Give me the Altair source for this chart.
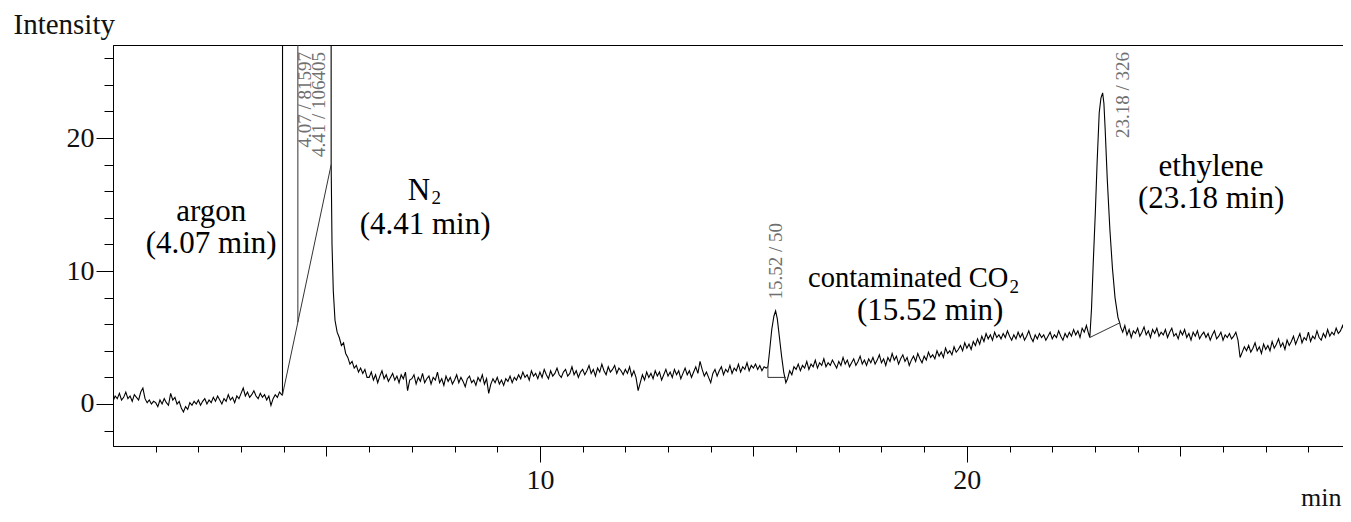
import altair as alt
import pandas as pd

STEP = 0.05

seg_a_start = 0.00
seg_a_vals = [
    0.2, 0.6, 0.4, 0.8, 0.3, 0.5, 0.9, 0.4, 0.6, 0.2, 0.7, 0.5, 0.3, 0.9, 1.2, 0.4, 0.1, 0.3, 0.0, 0.2,
    0.1, -0.2, 0.3, 0.0, 0.4, 0.1, -0.1, 0.8, 0.3, 0.5, 0.0, 0.2, -0.3, -0.6, -0.2, -0.4, 0.1, -0.1, 0.2, 0.0,
    0.3, -0.1, 0.2, 0.4, 0.0, 0.3, 0.1, 0.5, 0.2, 0.6, 0.3, 0.0, 0.4, 0.2, 0.7, 0.3, 0.5, 0.1, 0.6, 0.4,
    0.8, 1.2, 0.6, 0.9, 0.5, 0.7, 1.0, 0.6, 0.4, 0.8, 0.5, 0.7, 0.3, 0.6, -0.1, 0.4, 0.7, 0.5, 0.9, 0.7,
]

# argon / N2 region (argon and N2 apex are off scale)
peak1_t = [3.97, 3.98, 5.09, 5.11, 5.13, 5.16, 5.20, 5.25, 5.30, 5.35, 5.40, 5.45, 5.50,
           5.55, 5.60, 5.65, 5.70, 5.75, 5.80, 5.85, 5.90, 5.95]
peak1_v = [0.68, 300, 300, 18.0, 12.0, 8.5, 6.3, 5.4, 5.0, 4.4, 4.6, 3.8, 3.5,
           3.0, 3.2, 2.7, 2.9, 2.4, 2.7, 2.3, 2.6, 2.0]

seg_c_start = 6.00
seg_c_vals = [
    2.0, 2.4, 1.8, 2.2, 1.6, 2.1, 2.5, 1.9, 2.2, 1.7, 2.0, 2.3, 1.8, 2.1, 1.6, 2.2, 1.9, 2.4, 1.0, 1.8,
    1.9, 2.2, 1.5, 2.0, 1.7, 2.3, 1.6, 1.9, 2.1, 1.5, 2.0, 1.8, 2.4, 1.6, 1.9, 1.4, 2.1, 1.7, 2.0, 1.5,
    1.8, 2.2, 1.6, 2.0, 1.7, 1.3, 1.9, 2.1, 1.6, 1.8, 1.4, 2.0, 1.7, 2.2, 1.5, 1.9, 0.8, 1.5, 1.9, 1.6,
    2.0, 1.5, 1.8, 1.4, 1.9, 1.7, 2.1, 1.6, 2.0, 1.8, 2.2, 1.9, 2.4, 2.0, 2.2, 1.8, 2.5, 2.1, 2.3, 1.9,
    2.4, 2.0, 2.6, 2.2, 1.9, 2.5, 2.1, 2.3, 2.7, 2.2, 2.0, 2.4, 2.6, 2.1, 2.3, 2.8, 2.2, 2.5, 2.0, 2.4,
    2.6, 2.2, 2.5, 2.9, 2.3, 2.6, 2.1, 2.7, 2.4, 3.0, 2.5, 2.2, 2.8, 2.4, 2.6, 2.9, 2.3, 2.7, 2.5, 2.2,
    2.6, 2.3, 2.8, 2.1, 2.5, 2.0, 1.0, 1.6, 2.2, 1.8, 2.4, 2.0, 2.3, 1.9, 2.5, 2.1, 2.4, 1.8, 2.2, 2.6,
    2.1, 2.4, 2.0, 2.6, 2.2, 2.5, 1.9, 2.3, 2.7, 2.2, 2.5, 2.0, 2.4, 2.8, 2.3, 3.2, 2.6, 2.1, 2.4, 2.0,
    1.6, 2.3, 2.6, 2.1, 2.5, 2.8, 2.2, 2.6, 2.4, 2.9, 2.3, 2.7, 2.5, 3.0, 2.4, 2.8, 2.6, 3.1, 2.5, 2.9,
    2.7, 3.0, 2.6, 2.9, 2.5, 2.8, 2.7,
]

# contaminated CO2 peak
peak2_t = [15.34, 15.38, 15.43, 15.48, 15.52, 15.56, 15.61, 15.66, 15.71, 15.76]
peak2_v = [2.8, 4.0, 5.6, 6.6, 7.0, 6.4, 5.0, 3.6, 2.4, 1.6]

seg_e_start = 15.80
seg_e_vals = [
    1.9, 2.5, 2.2, 2.8, 2.6, 3.0, 2.5, 2.9, 2.7, 3.2, 2.6, 3.0, 2.8, 3.3, 2.7, 3.1, 2.9, 3.4, 2.8, 3.1,
    2.9, 3.3, 3.0, 2.7, 3.2, 2.9, 3.5, 3.0, 3.3, 2.8, 3.1, 3.4, 2.9, 3.2, 3.6, 3.0, 3.3, 2.9, 3.4, 3.1,
    3.5, 3.0, 3.3, 3.7, 3.1, 3.4, 2.9, 3.5, 3.2, 3.8, 3.3, 3.6, 3.0, 3.4, 3.7, 3.2, 3.5, 2.9, 3.3, 3.6,
    3.2, 3.8, 3.4, 3.1, 3.6, 3.3, 3.9, 3.5, 3.7, 3.4, 4.0, 3.6, 3.9, 3.5, 4.2, 3.8, 4.0, 3.7, 4.3, 3.9,
    4.1, 4.4, 4.0, 4.6, 4.2, 4.5, 4.1, 4.7, 4.4, 4.9, 4.5, 5.1, 4.7, 5.3, 4.9, 5.2, 4.8, 5.4, 5.0, 5.2,
    4.9, 5.3, 5.0, 5.5, 5.1, 4.8, 5.2, 4.9, 5.4, 5.0, 5.3, 4.8, 5.1, 5.5, 5.0, 4.7, 5.2, 4.9, 5.3, 5.0,
    5.2, 4.8, 5.1, 5.4, 4.9, 5.2, 5.0, 5.5, 5.1, 4.8, 5.3, 5.0, 5.4, 5.1, 5.6, 5.2, 5.5, 5.0, 5.7, 5.4,
    5.9, 5.3,
]

# ethylene peak
peak3_t = [22.88, 22.92, 22.96, 23.01, 23.05, 23.10, 23.14, 23.18, 23.21, 23.24, 23.29,
           23.35, 23.41, 23.47, 23.54, 23.58]
peak3_v = [5.0, 7.2, 10.6, 14.5, 18.1, 21.9, 23.0, 23.4, 22.6, 20.6, 16.8,
           13.1, 10.2, 8.0, 6.5, 6.1]

seg_g_start = 23.60
seg_g_vals = [
    5.8, 5.4, 5.9, 5.2, 5.6, 5.0, 5.5, 5.3, 5.7, 5.1, 5.4, 5.8, 5.2, 5.5, 5.0, 5.6, 5.3, 5.7, 5.1, 5.4,
    5.2, 5.6, 5.0, 5.4, 5.7, 5.1, 5.3, 4.9, 5.5, 5.2, 5.6, 5.0, 5.3, 4.8, 5.4, 5.1, 5.5, 4.9, 5.2, 5.4,
    5.0, 5.3, 4.8, 5.2, 5.5, 4.9, 5.1, 5.4, 4.8, 5.2, 5.0, 5.3, 4.9, 5.1, 5.4, 4.8, 3.5, 3.9, 4.3, 4.0,
    4.4, 3.9, 4.2, 4.6, 4.0, 4.3, 3.8, 4.5, 4.1, 4.4, 4.0, 4.7, 4.2, 4.5, 4.9, 4.3, 4.6, 4.1, 4.8, 4.4,
    4.7, 5.1, 4.5, 4.9, 5.3, 4.6, 5.0, 4.8, 5.4, 4.7, 5.1, 4.9, 5.5, 5.0, 4.8, 5.3, 5.0, 5.6, 5.1, 5.4,
    5.2, 5.7, 5.3, 5.5, 5.9, 5.4, 5.8, 5.6, 6.0,
]

# integration baselines / drop lines drawn by the data system
base_seg = ["b1", "b1", "d1", "d1", "b2", "b2", "b2", "b3", "b3"]
base_t = [3.97, 5.11, 4.33, 4.33, 15.34, 15.34, 15.76, 22.88, 23.58]
base_v = [0.68, 18.0, 6.15, 300, 2.8, 2.0, 2.0, 5.0, 6.1]

# peak labels (retention time / area)
plabel_text = ["4.07 / 81597", "4.41 / 106405", "15.52 / 50", "23.18 / 326"]
plabel_t = [4.64, 4.97, 15.67, 23.80]
plabel_v = [26.47, 26.47, 13.61, 26.47]

# compound annotations
ann_c_text = ["argon", "(4.07 min)", "(4.41 min)", "(15.52 min)", "ethylene", "(23.18 min)"]
ann_c_t = [2.30, 2.30, 7.31, 19.14, 25.72, 25.72]
ann_c_v = [13.76, 11.36, 12.76, 6.32, 17.15, 14.74]
ann_n_text = ["N"]
ann_n_t = [7.43]
ann_n_v = [15.35]
ann_co_text = ["contaminated CO"]
ann_co_t = [20.97]
ann_co_v = [8.80]
ann_s_text = ["2", "2"]
ann_s_t = [7.46, 21.00]
ann_s_v = [15.05, 8.35]

# ---- build tables ----
def grid(start, n):
    return [round(start + k * STEP, 2) for k in range(n)]

t_all, v_all = [], []
for ts, vs in [
    (grid(seg_a_start, len(seg_a_vals)), seg_a_vals),
    (peak1_t, peak1_v),
    (grid(seg_c_start, len(seg_c_vals)), seg_c_vals),
    (peak2_t, peak2_v),
    (grid(seg_e_start, len(seg_e_vals)), seg_e_vals),
    (peak3_t, peak3_v),
    (grid(seg_g_start, len(seg_g_vals)), seg_g_vals),
]:
    t_all += list(ts)
    v_all += list(vs)

trace = pd.DataFrame({"t": t_all, "v": v_all, "i": range(len(t_all))})
base = pd.DataFrame({"seg": base_seg, "t": base_t, "v": base_v, "k": range(len(base_t))})
plab = pd.DataFrame({"t": plabel_t, "v": plabel_v, "label": plabel_text})
ann_c = pd.DataFrame({"t": ann_c_t, "v": ann_c_v, "label": ann_c_text})
ann_n = pd.DataFrame({"t": ann_n_t, "v": ann_n_v, "label": ann_n_text})
ann_co = pd.DataFrame({"t": ann_co_t, "v": ann_co_v, "label": ann_co_text})
ann_s = pd.DataFrame({"t": ann_s_t, "v": ann_s_v, "label": ann_s_text})

SERIF = "Liberation Serif"

x_enc = alt.X(
    "t:Q",
    scale=alt.Scale(domain=[0, 28.81], nice=False, zero=False),
    axis=alt.Axis(
        values=list(range(1, 29)),
        tickSize={"condition": [{"test": "datum.value % 10 === 0", "value": 16},
                                {"test": "datum.value % 5 === 0", "value": 10}],
                  "value": 6},
        labelExpr="datum.value % 10 === 0 ? datum.label : ''",
        labelPadding=4,
        labelFlush=False,
        labelOverlap=False,
        title="min",
        titleAlign="right",
        titleBaseline="alphabetic",
        titleX=1228,
        titleY=59,
        titleFontSize=26,
    ),
)
y_enc = alt.Y(
    "v:Q",
    scale=alt.Scale(domain=[-3.16, 27.0], nice=False, zero=False),
    axis=alt.Axis(
        values=list(range(-2, 27, 2)),
        tickSize={"condition": {"test": "datum.value % 10 === 0", "value": 17}, "value": 9},
        labelExpr="datum.value % 10 === 0 ? datum.label : ''",
        labelPadding=2,
        labelFlush=False,
        labelOverlap=False,
        title="Intensity",
        titleAngle=0,
        titleAlign="left",
        titleBaseline="alphabetic",
        titleX=-100,
        titleY=-12,
        titleFontSize=29,
    ),
)

trace_layer = alt.Chart(trace).mark_line(color="black", strokeWidth=1.1, clip=True).encode(
    x=x_enc, y=y_enc, order="i:Q")
base_layer = alt.Chart(base).mark_line(color="#333333", strokeWidth=1, clip=True).encode(
    x=x_enc, y=y_enc, detail="seg:N", order="k:Q")
plab_layer = alt.Chart(plab).mark_text(
    angle=270, align="right", baseline="alphabetic", font=SERIF, fontSize=19, color="#707070"
).encode(x=x_enc, y=y_enc, text="label:N")
annc_layer = alt.Chart(ann_c).mark_text(
    align="center", baseline="alphabetic", font=SERIF, fontSize=31, color="black"
).encode(x=x_enc, y=y_enc, text="label:N")
annn_layer = alt.Chart(ann_n).mark_text(
    align="right", baseline="alphabetic", font=SERIF, fontSize=31, color="black"
).encode(x=x_enc, y=y_enc, text="label:N")
annco_layer = alt.Chart(ann_co).mark_text(
    align="right", baseline="alphabetic", font=SERIF, fontSize=28.5, color="black"
).encode(x=x_enc, y=y_enc, text="label:N")
anns_layer = alt.Chart(ann_s).mark_text(
    align="left", baseline="alphabetic", font=SERIF, fontSize=19, color="black"
).encode(x=x_enc, y=y_enc, text="label:N")

chart = alt.layer(
    trace_layer, base_layer, plab_layer, annc_layer, annn_layer, annco_layer, anns_layer
).properties(
    width=1230,
    height=401,
    autosize=alt.AutoSizeParams(type="none"),
    padding={"left": 105, "top": 37, "right": 0, "bottom": 66},
).configure_view(
    stroke="black", strokeWidth=1
).configure_axis(
    domainColor="black", tickColor="black", domainWidth=1, tickWidth=1, grid=False,
    labelFont=SERIF, labelFontSize=28, labelColor="#111111",
    titleFont=SERIF, titleFontWeight="normal", titleColor="#111111",
)

chart.save("out.html", embed_options={"renderer": "svg", "actions": False})
